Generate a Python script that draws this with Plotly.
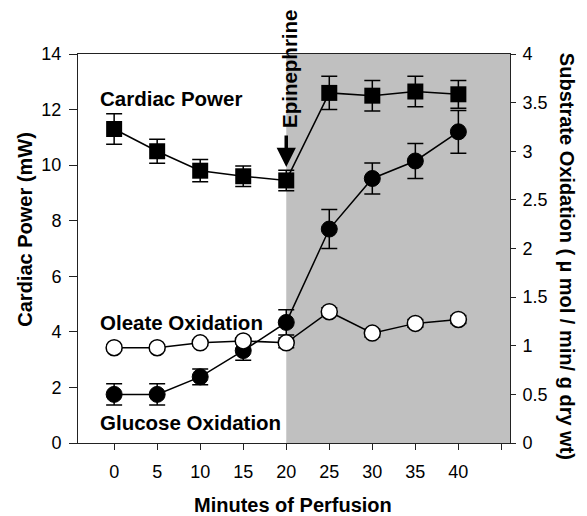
import plotly.graph_objects as go

minutes = [0, 5, 10, 15, 20, 25, 30, 35, 40]
tick_vals = [0, 5, 10, 15, 20, 25, 30, 35, 40, 45]
tick_text = ["0", "5", "10", "15", "20", "25", "30", "35", "40", ""]

cardiac_power = [11.3, 10.5, 9.8, 9.6, 9.45, 12.6, 12.5, 12.65, 12.55]
cardiac_power_err = [0.55, 0.43, 0.4, 0.37, 0.37, 0.6, 0.55, 0.55, 0.5]

glucose_ox = [0.5, 0.5, 0.68, 0.95, 1.24, 2.2, 2.72, 2.9, 3.2]
glucose_ox_err = [0.11, 0.11, 0.08, 0.1, 0.13, 0.2, 0.16, 0.18, 0.22]

oleate_ox = [0.98, 0.98, 1.03, 1.05, 1.03, 1.35, 1.13, 1.23, 1.27]
oleate_ox_err = [0.03, 0.03, 0.03, 0.03, 0.05, 0.04, 0.04, 0.04, 0.04]

FONT = "Liberation Sans, Arial, sans-serif"
BLACK = "#000000"

fig = go.Figure()

fig.add_trace(go.Scatter(
    x=minutes, y=glucose_ox, yaxis="y2", mode="lines+markers",
    line=dict(color=BLACK, width=1.5),
    marker=dict(symbol="circle", size=16, color=BLACK, line=dict(color=BLACK, width=1)),
    error_y=dict(type="data", array=glucose_ox_err, color=BLACK, thickness=1.5, width=8),
    showlegend=False, cliponaxis=False,
))
fig.add_trace(go.Scatter(
    x=minutes, y=oleate_ox, yaxis="y2", mode="lines+markers",
    line=dict(color=BLACK, width=1.5),
    marker=dict(symbol="circle", size=16, color="white", line=dict(color=BLACK, width=1.5)),
    error_y=dict(type="data", array=oleate_ox_err, color=BLACK, thickness=1.5, width=8),
    showlegend=False, cliponaxis=False,
))
fig.add_trace(go.Scatter(
    x=minutes, y=cardiac_power, yaxis="y", mode="lines+markers",
    line=dict(color=BLACK, width=1.5),
    marker=dict(symbol="square", size=16, color=BLACK),
    error_y=dict(type="data", array=cardiac_power_err, color=BLACK, thickness=1.5, width=8),
    showlegend=False, cliponaxis=False,
))

fig.add_shape(type="rect", xref="x", yref="paper", x0=20, x1=46, y0=0, y1=1,
              fillcolor="#c0c0c0", line=dict(width=0), layer="below")

ANN = 20.5
annotations = [
    dict(text="<b>Cardiac Power</b>", x=-1.9, y=12.41, xref="x", yref="y",
         xanchor="left", yanchor="middle", showarrow=False, font=dict(size=ANN)),
    dict(text="<b>Oleate Oxidation</b>", x=-1.9, y=4.32, xref="x", yref="y",
         xanchor="left", yanchor="middle", showarrow=False, font=dict(size=ANN)),
    dict(text="<b>Glucose Oxidation</b>", x=-1.9, y=0.75, xref="x", yref="y",
         xanchor="left", yanchor="middle", showarrow=False, font=dict(size=ANN)),
    dict(text="<b>Epinephrine</b>", x=20.4, y=13.45, xref="x", yref="y",
         xanchor="center", yanchor="middle", textangle=-90, showarrow=False,
         font=dict(size=ANN)),
    dict(text="", x=20, y=9.93, xref="x", yref="y", showarrow=True,
         ax=0, ay=-33, axref="pixel", ayref="pixel",
         arrowhead=2, arrowsize=1.1, arrowwidth=3.5, arrowcolor=BLACK),
    dict(text="<b>Cardiac Power (mW)</b>", x=-0.123, y=0.548, xref="paper", yref="paper",
         xanchor="center", yanchor="middle", textangle=-90, showarrow=False,
         font=dict(size=20)),
    dict(text="<b>Substrate Oxidation ( \u00b5 mol / min/ g dry wt)</b>", x=1.132, y=0.481,
         xref="paper", yref="paper", xanchor="center", yanchor="middle", textangle=90,
         showarrow=False, font=dict(size=20)),
    dict(text="<b>Minutes of Perfusion</b>", x=0.498, y=-0.159, xref="paper", yref="paper",
         xanchor="center", yanchor="middle", showarrow=False, font=dict(size=20)),
]

fig.update_layout(
    width=579, height=508, autosize=False,
    margin=dict(l=70, r=77, t=46, b=73, pad=0),
    paper_bgcolor="white", plot_bgcolor="white",
    font=dict(family=FONT, color=BLACK, size=18),
    annotations=annotations,
    xaxis=dict(range=[-4.2, 46], tickvals=tick_vals, ticktext=tick_text,
               ticks="outside", ticklen=6, tickwidth=1, tickcolor="#222",
               showline=True, linecolor="#222", linewidth=1, mirror=True,
               showgrid=False, zeroline=False, ticklabelstandoff=6,
               tickfont=dict(size=18)),
    yaxis=dict(range=[0, 14], dtick=2, ticks="outside", ticklen=8, tickwidth=1,
               tickcolor="#222", showline=True, linecolor="#222", linewidth=1,
               showgrid=False, zeroline=False, ticklabelstandoff=4,
               tickfont=dict(size=18)),
    yaxis2=dict(range=[0, 4], dtick=0.5, overlaying="y", side="right",
                ticks="outside", ticklen=5, tickwidth=1, tickcolor="#222",
                showline=True, linecolor="#222", linewidth=1, showgrid=False,
                zeroline=False, ticklabelstandoff=3, tickfont=dict(size=18)),
)

fig.write_html("out.html")
